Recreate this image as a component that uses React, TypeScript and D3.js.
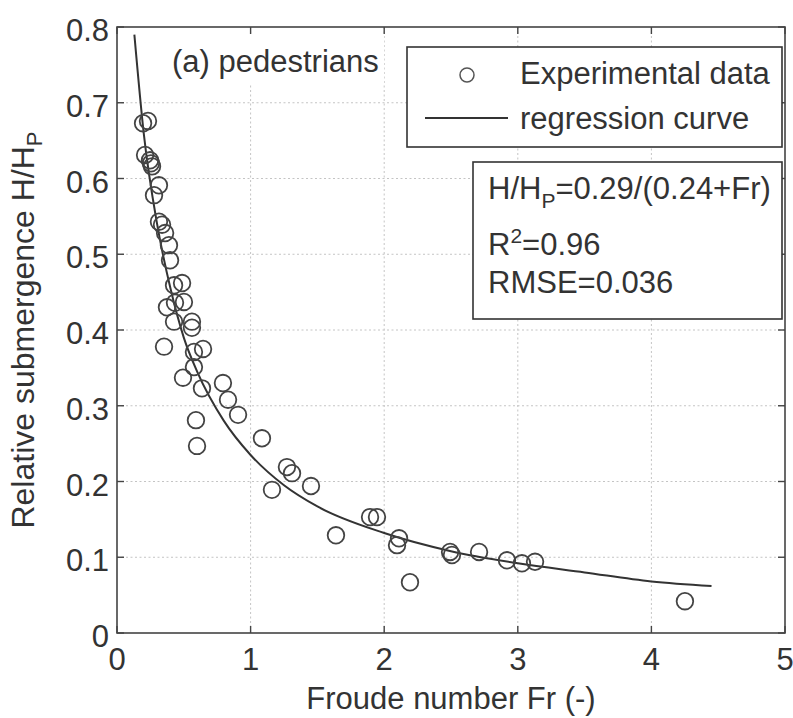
import * as d3 from 'd3'
import React from 'react'

const froude = [
  0.195, 0.232, 0.21, 0.247, 0.254, 0.262, 0.314, 0.277, 0.314, 0.337, 0.36, 0.389, 0.397, 0.427, 0.487,
  0.374, 0.434, 0.501, 0.427, 0.561, 0.561, 0.352, 0.576, 0.644, 0.576, 0.494, 0.636, 0.793, 0.831, 0.906,
  0.591, 0.599, 1.085, 1.272, 1.31, 1.16, 1.452, 1.639, 1.894, 1.946, 2.111, 2.096, 2.193, 2.493, 2.507,
  2.71, 2.919, 3.031, 3.129, 4.251,
]
const submergence = [
  0.673, 0.676, 0.631, 0.624, 0.62, 0.616, 0.591, 0.578, 0.543, 0.539, 0.528, 0.512, 0.492, 0.459, 0.462,
  0.43, 0.436, 0.437, 0.411, 0.411, 0.403, 0.378, 0.371, 0.375, 0.351, 0.337, 0.323, 0.33, 0.308, 0.288,
  0.281, 0.247, 0.257, 0.219, 0.211, 0.189, 0.194, 0.129, 0.153, 0.153, 0.125, 0.116, 0.067, 0.107, 0.103,
  0.107, 0.096, 0.092, 0.094, 0.042,
]

// regression curve, sampled off the figure
const curveFr = [0.13, 0.2, 0.3, 0.4, 0.5, 0.6, 0.8, 1.0, 1.25, 1.5, 2.0, 2.5, 3.0, 3.5, 4.0, 4.45]
const curveH = [0.79, 0.66, 0.54, 0.455, 0.39, 0.345, 0.28, 0.235, 0.195, 0.167, 0.132, 0.108, 0.092, 0.08, 0.068, 0.062]

const xTicks = [0, 1, 2, 3, 4, 5]
const yTicks = [0, 0.1, 0.2, 0.3, 0.4, 0.5, 0.6, 0.7, 0.8]

const W = 793
const H = 718
const plot = { left: 117, top: 27, right: 785, bottom: 633 }
const font = '"Liberation Sans", Arial, sans-serif'
const ink = '#333'
const fs = 31

export default function App() {
  const x = d3.scaleLinear().domain([0, 5]).range([plot.left, plot.right])
  const y = d3.scaleLinear().domain([0, 0.8]).range([plot.bottom, plot.top])

  const line = d3
    .line<number>()
    .x((d) => x(d))
    .y((_, i) => y(curveH[i]))
    .curve(d3.curveMonotoneX)

  const tick = 7

  return (
    <svg width={W} height={H} style={{ position: 'absolute', left: 0, top: 0 }} fontFamily={font}>
      <rect width={W} height={H} fill="#fff" />
      <defs>
        <clipPath id="plotClip">
          <rect x={plot.left} y={plot.top} width={plot.right - plot.left} height={plot.bottom - plot.top} />
        </clipPath>
      </defs>

      {/* grid */}
      <g stroke="#c4c4c4" strokeWidth={1} strokeDasharray="2,2.5">
        {xTicks.slice(1, -1).map((t) => (
          <line key={'gx' + t} x1={x(t)} x2={x(t)} y1={plot.top} y2={plot.bottom} />
        ))}
        {yTicks.slice(1, -1).map((t) => (
          <line key={'gy' + t} x1={plot.left} x2={plot.right} y1={y(t)} y2={y(t)} />
        ))}
      </g>

      {/* title with white background */}
      <rect x={166} y={33} width={218} height={50} fill="#fff" />
      <text x={172} y={72} fontSize={fs} fill={ink}>
        (a) pedestrians
      </text>

      {/* regression curve */}
      <path d={line(curveFr) ?? ''} fill="none" stroke={ink} strokeWidth={2} clipPath="url(#plotClip)" />

      {/* data points */}
      <g fill="none" stroke="#444" strokeWidth={1.8}>
        {froude.map((f, i) => (
          <circle key={i} cx={x(f)} cy={y(submergence[i])} r={8.3} />
        ))}
      </g>

      {/* frame and ticks */}
      <rect
        x={plot.left}
        y={plot.top}
        width={plot.right - plot.left}
        height={plot.bottom - plot.top}
        fill="none"
        stroke="#444"
        strokeWidth={1.6}
      />
      <g stroke="#444" strokeWidth={1.4}>
        {xTicks.map((t) => (
          <g key={'tx' + t}>
            <line x1={x(t)} x2={x(t)} y1={plot.bottom} y2={plot.bottom - tick} />
            <line x1={x(t)} x2={x(t)} y1={plot.top} y2={plot.top + tick} />
          </g>
        ))}
        {yTicks.map((t) => (
          <g key={'ty' + t}>
            <line x1={plot.left} x2={plot.left + tick} y1={y(t)} y2={y(t)} />
            <line x1={plot.right} x2={plot.right - tick} y1={y(t)} y2={y(t)} />
          </g>
        ))}
      </g>

      {/* tick labels */}
      <g fontSize={fs} fill={ink}>
        {xTicks.map((t) => (
          <text key={'lx' + t} x={x(t)} y={670} textAnchor="middle">
            {d3.format('d')(t)}
          </text>
        ))}
        {yTicks.map((t) => (
          <text key={'ly' + t} x={109} y={y(t) + 14} textAnchor="end">
            {t === 0 ? '0' : d3.format('.1f')(t)}
          </text>
        ))}
      </g>

      {/* axis labels */}
      <text x={(plot.left + plot.right) / 2} y={709} fontSize={fs} fill={ink} textAnchor="middle">
        Froude number Fr (-)
      </text>
      <text
        transform={`translate(34,${(plot.top + plot.bottom) / 2}) rotate(-90)`}
        fontSize={32}
        fill={ink}
        textAnchor="middle"
      >
        Relative submergence H/H
        <tspan fontSize={22} dy={8}>
          P
        </tspan>
      </text>

      {/* legend */}
      <rect x={407} y={47} width={375} height={100} fill="#fff" stroke={ink} strokeWidth={1.6} />
      <circle cx={467} cy={75} r={7} fill="none" stroke="#555" strokeWidth={1.5} />
      <text x={520} y={84} fontSize={fs} fill={ink}>
        Experimental data
      </text>
      <line x1={425} x2={508} y1={118} y2={118} stroke={ink} strokeWidth={2} />
      <text x={520} y={129} fontSize={fs} fill={ink}>
        regression curve
      </text>

      {/* fit statistics */}
      <rect x={473} y={162} width={309} height={157} fill="#fff" stroke={ink} strokeWidth={1.6} />
      <text x={488} y={199} fontSize={fs} fill={ink}>
        H/H
        <tspan fontSize={21} dy={9}>
          P
        </tspan>
        <tspan dy={-9}>=0.29/(0.24+Fr)</tspan>
      </text>
      <text x={488} y={255} fontSize={fs} fill={ink}>
        R
        <tspan fontSize={21} dy={-12}>
          2
        </tspan>
        <tspan dy={12}>=0.96</tspan>
      </text>
      <text x={488} y={293} fontSize={fs} fill={ink}>
        RMSE=0.036
      </text>
    </svg>
  )
}
